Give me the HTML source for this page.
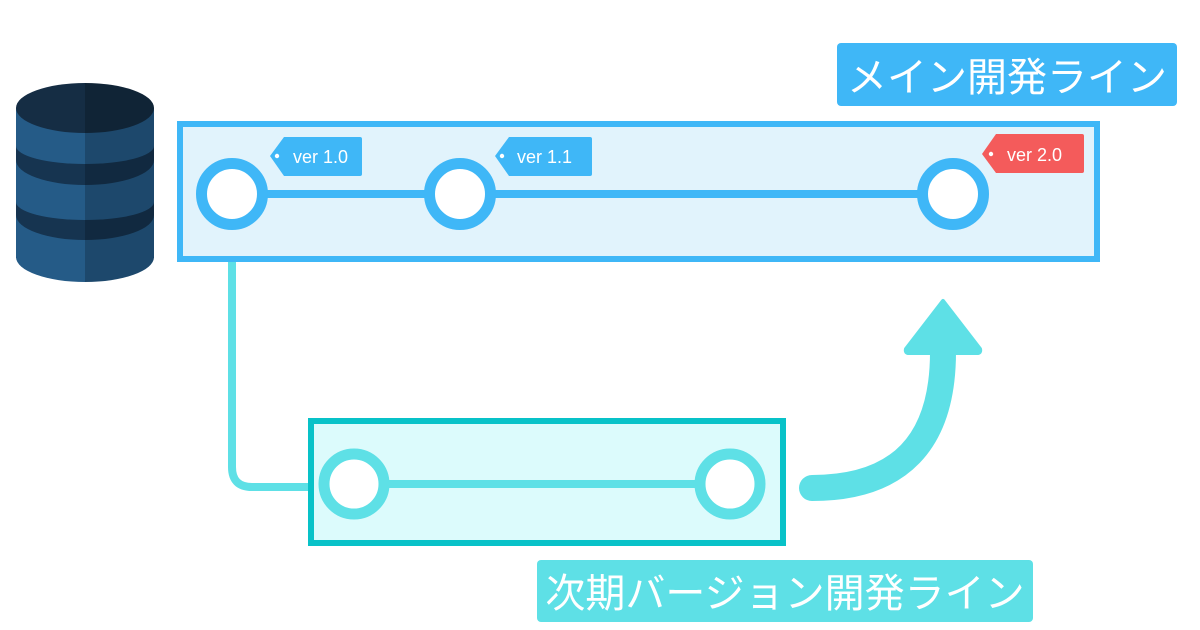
<!DOCTYPE html>
<html><head><meta charset="utf-8"><style>
html,body{margin:0;padding:0;background:#fff;}
svg{display:block}
text{font-family:"Liberation Sans","Noto Sans CJK JP",sans-serif;}
</style></head><body>
<svg width="1200" height="630" viewBox="0 0 1200 630" xmlns="http://www.w3.org/2000/svg">
<defs>
<clipPath id="sil"><rect x="16" y="108" width="138" height="150"/><ellipse cx="85" cy="108" rx="69" ry="25"/><ellipse cx="85" cy="257" rx="69" ry="25"/></clipPath>
</defs>
<g>
<rect x="16" y="108" width="138" height="150" fill="#163450"/>
<ellipse cx="85" cy="257" rx="69" ry="25" fill="#255b87"/>
<rect x="16" y="215" width="138" height="42" fill="#255b87"/>
<ellipse cx="85" cy="215" rx="69" ry="25" fill="#163450"/>
<ellipse cx="85" cy="202" rx="69" ry="18" fill="#255b87"/>
<rect x="16" y="160" width="138" height="42" fill="#255b87"/>
<ellipse cx="85" cy="160" rx="69" ry="25" fill="#163450"/>
<ellipse cx="85" cy="146" rx="69" ry="18" fill="#255b87"/>
<rect x="16" y="108" width="138" height="38" fill="#255b87"/>
<ellipse cx="85" cy="108" rx="69" ry="25" fill="#152d44"/>
<rect x="85" y="70" width="70" height="220" fill="#000" opacity="0.2" clip-path="url(#sil)"/>
</g>
<path d="M232 262 V467 Q232 487 252 487 H310" fill="none" stroke="#5ee0e6" stroke-width="8"/>
<rect x="180" y="124" width="917" height="135" fill="#e1f3fc" stroke="#3fb7f7" stroke-width="6"/>
<line x1="232" y1="194" x2="953" y2="194" stroke="#3fb7f7" stroke-width="8"/>
<circle cx="232" cy="194" r="30.5" fill="#fff" stroke="#3fb7f7" stroke-width="11"/>
<circle cx="460" cy="194" r="30.5" fill="#fff" stroke="#3fb7f7" stroke-width="11"/>
<circle cx="953" cy="194" r="30.5" fill="#fff" stroke="#3fb7f7" stroke-width="11"/>
<path d="M284 137 H360 Q362 137 362 139 V174 Q362 176 360 176 H284 L270 156 Z" fill="#3fb7f7"/>
<circle cx="277" cy="156" r="2.2" fill="#fff"/>
<text x="293" y="163" font-size="18" fill="#fff">ver 1.0</text>
<path d="M509 137 H590 Q592 137 592 139 V174 Q592 176 590 176 H509 L495 156 Z" fill="#3fb7f7"/>
<circle cx="502" cy="156" r="2.2" fill="#fff"/>
<text x="517" y="163" font-size="18" fill="#fff">ver 1.1</text>
<path d="M996 134 H1082 Q1084 134 1084 136 V171 Q1084 173 1082 173 H996 L982 154 Z" fill="#f45b5b"/>
<circle cx="991" cy="154" r="2.2" fill="#fff"/>
<text x="1007" y="161" font-size="18" fill="#fff">ver 2.0</text>
<rect x="837" y="43" width="340" height="63" rx="4" fill="#3fb7f7"/>
<text x="1007" y="91" font-size="40" fill="#fff" text-anchor="middle">メイン開発ライン</text>
<rect x="311" y="421" width="472" height="122" fill="#dcfbfc" stroke="#08c2c8" stroke-width="6"/>
<line x1="354" y1="484" x2="730" y2="484" stroke="#5ee0e6" stroke-width="8"/>
<circle cx="354" cy="484" r="30" fill="#fff" stroke="#5ee0e6" stroke-width="11"/>
<circle cx="730" cy="484" r="30" fill="#fff" stroke="#5ee0e6" stroke-width="11"/>
<path d="M812 488 Q943 488 943 352" fill="none" stroke="#5ee0e6" stroke-width="26" stroke-linecap="round"/>
<path d="M943 301 L980 349 Q981 353 977 353 L909 353 Q905 353 906 349 Z" fill="#5ee0e6" stroke="#5ee0e6" stroke-width="4" stroke-linejoin="round"/>
<rect x="537" y="560" width="496" height="62" rx="4" fill="#5ee0e6"/>
<text x="785" y="607" font-size="40" fill="#fff" text-anchor="middle">次期バージョン開発ライン</text>
</svg>
</body></html>
